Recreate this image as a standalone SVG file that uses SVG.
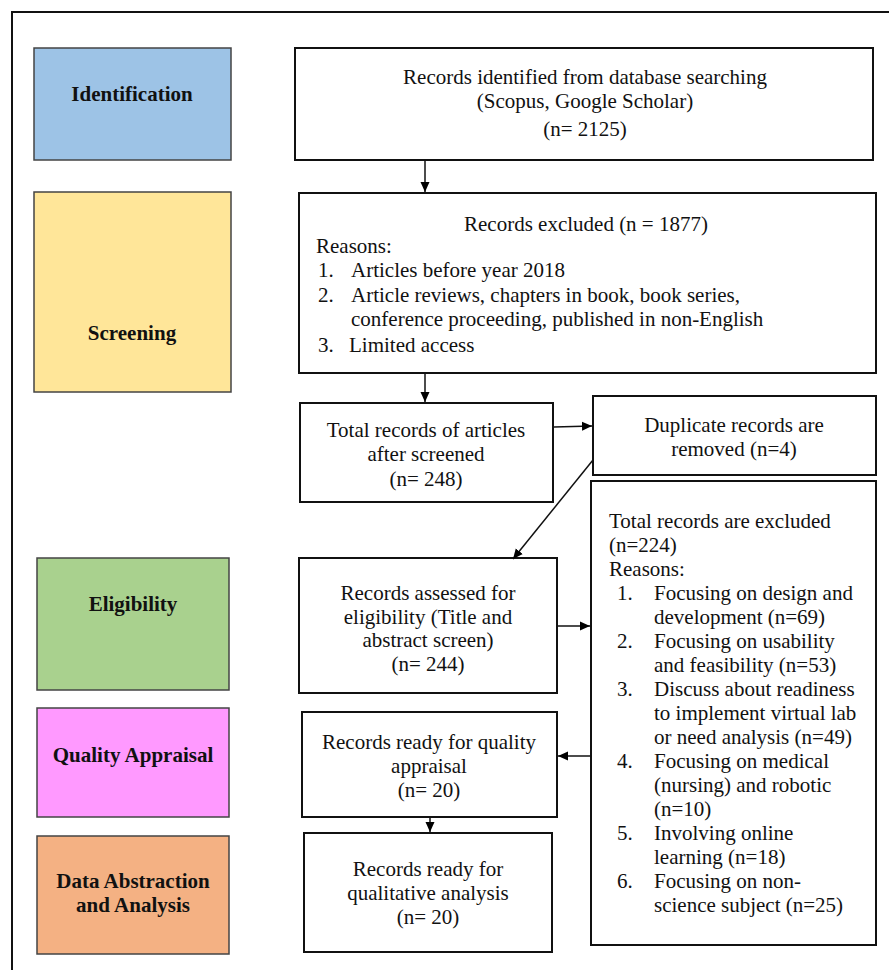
<svg xmlns="http://www.w3.org/2000/svg" width="889" height="970" viewBox="0 0 889 970">
<defs>
<marker id="ah" viewBox="0 0 10 10" refX="10" refY="5" markerWidth="10" markerHeight="10" markerUnits="userSpaceOnUse" orient="auto">
<path d="M0,0.5 L10,5 L0,9.5 Z" fill="#000"/>
</marker>
<style>
.box{fill:#fff;stroke:#111;stroke-width:2}
.stage{stroke:#444;stroke-width:1.5}
.t{font-family:"Liberation Serif","Times New Roman",serif;font-size:21px;fill:#111}
.c{text-anchor:middle}
.b{font-weight:bold}
.conn{stroke:#111;stroke-width:1.5;fill:none;marker-end:url(#ah)}
</style>
</defs>
<rect x="0" y="0" width="889" height="970" fill="#fff"/>
<rect x="12" y="12" width="900" height="1000" fill="none" stroke="#111" stroke-width="2"/>

<g id="stage-identification">
<rect class="stage" x="34" y="48" width="197" height="112" fill="#9DC3E6"/>
<text class="t c b" x="132" y="101">Identification</text>
</g>
<g id="stage-screening">
<rect class="stage" x="34" y="192" width="197" height="200" fill="#FFE699"/>
<text class="t c b" x="132" y="340">Screening</text>
</g>
<g id="stage-eligibility">
<rect class="stage" x="37" y="558" width="192" height="132" fill="#A9D18E"/>
<text class="t c b" x="133" y="611">Eligibility</text>
</g>
<g id="stage-quality">
<rect class="stage" x="37" y="708" width="192" height="109" fill="#FF99FF"/>
<text class="t c b" x="133" y="762">Quality Appraisal</text>
</g>
<g id="stage-data">
<rect class="stage" x="37" y="836" width="192" height="118" fill="#F4B183"/>
<text class="t c b" x="133" y="888">Data Abstraction</text>
<text class="t c b" x="133" y="912">and Analysis</text>
</g>

<g id="node-identified">
<rect class="box" x="295" y="48" width="578" height="112"/>
<text class="t c" x="585" y="84">Records identified from database searching</text>
<text class="t c" x="585" y="108">(Scopus, Google Scholar)</text>
<text class="t c" x="585" y="136">(n= 2125)</text>
</g>
<g id="node-excluded">
<rect class="box" x="299" y="193" width="577" height="180"/>
<text class="t c" x="586" y="231">Records excluded (n = 1877)</text>
<text class="t" x="316" y="253">Reasons:</text>
<text class="t" x="318" y="277">1.</text>
<text class="t" x="351" y="277">Articles before year 2018</text>
<text class="t" x="318" y="302">2.</text>
<text class="t" x="351" y="302">Article reviews, chapters in book, book series,</text>
<text class="t" x="351" y="326">conference proceeding, published in non-English</text>
<text class="t" x="318" y="352">3.</text>
<text class="t" x="349" y="352">Limited access</text>
</g>
<g id="node-total">
<rect class="box" x="300" y="403" width="253" height="99"/>
<text class="t c" x="426" y="437">Total records of articles</text>
<text class="t c" x="426" y="461">after screened</text>
<text class="t c" x="426" y="486">(n= 248)</text>
</g>
<g id="node-duplicate">
<rect class="box" x="593" y="396" width="283" height="79"/>
<text class="t c" x="734" y="432">Duplicate records are</text>
<text class="t c" x="734" y="456">removed (n=4)</text>
</g>
<g id="node-total-excluded">
<rect class="box" x="591" y="481" width="285" height="464"/>
<text class="t" x="609" y="528">Total records are excluded</text>
<text class="t" x="609" y="552">(n=224)</text>
<text class="t" x="609" y="576">Reasons:</text>
<text class="t" x="617" y="600">1.</text>
<text class="t" x="654" y="600">Focusing on design and</text>
<text class="t" x="654" y="624">development (n=69)</text>
<text class="t" x="617" y="648">2.</text>
<text class="t" x="654" y="648">Focusing on usability</text>
<text class="t" x="654" y="672">and feasibility (n=53)</text>
<text class="t" x="617" y="696">3.</text>
<text class="t" x="654" y="696">Discuss about readiness</text>
<text class="t" x="654" y="720">to implement virtual lab</text>
<text class="t" x="654" y="744">or need analysis (n=49)</text>
<text class="t" x="617" y="768">4.</text>
<text class="t" x="654" y="768">Focusing on medical</text>
<text class="t" x="654" y="792">(nursing) and robotic</text>
<text class="t" x="654" y="816">(n=10)</text>
<text class="t" x="617" y="840">5.</text>
<text class="t" x="654" y="840">Involving online</text>
<text class="t" x="654" y="864">learning (n=18)</text>
<text class="t" x="617" y="888">6.</text>
<text class="t" x="654" y="888">Focusing on non-</text>
<text class="t" x="654" y="912">science subject (n=25)</text>
</g>
<g id="node-assessed">
<rect class="box" x="299" y="558" width="258" height="135"/>
<text class="t c" x="428" y="600">Records assessed for</text>
<text class="t c" x="428" y="624">eligibility (Title and</text>
<text class="t c" x="428" y="647">abstract screen)</text>
<text class="t c" x="428" y="671">(n= 244)</text>
</g>
<g id="node-quality">
<rect class="box" x="302" y="712" width="255" height="105"/>
<text class="t c" x="429" y="749">Records ready for quality</text>
<text class="t c" x="429" y="773">appraisal</text>
<text class="t c" x="429" y="797">(n= 20)</text>
</g>
<g id="node-qualitative">
<rect class="box" x="304" y="833" width="248" height="119"/>
<text class="t c" x="428" y="876">Records ready for</text>
<text class="t c" x="428" y="900">qualitative analysis</text>
<text class="t c" x="428" y="924">(n= 20)</text>
</g>

<g id="connectors">
<line class="conn" x1="425" y1="161" x2="425" y2="192"/>
<line class="conn" x1="425" y1="374" x2="425" y2="402"/>
<line class="conn" x1="554" y1="427" x2="592" y2="426"/>
<line class="conn" x1="593" y1="460" x2="513" y2="559"/>
<line class="conn" x1="558" y1="626" x2="590" y2="626"/>
<line class="conn" x1="591" y1="756" x2="558" y2="756"/>
<line class="conn" x1="430" y1="818" x2="430" y2="832"/>
</g>
</svg>
